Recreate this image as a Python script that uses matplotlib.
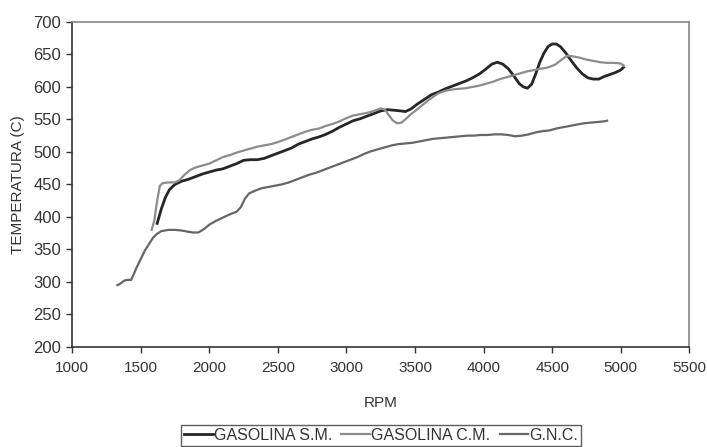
import matplotlib
matplotlib.use("Agg")
import matplotlib.pyplot as plt

plt.rcParams['font.family'] = ['Liberation Sans', 'DejaVu Sans']

# GASOLINA S.M.
sm_rpm = [1620,1650,1680,1710,1750,1800,1850,1900,1950,2000,2050,2100,2150,2200,2250,2300,2350,2400,2450,2500,
          2550,2600,2650,2700,2750,2800,2850,2900,2950,3000,3050,3100,3150,3200,3250,3300,3350,3400,3430,3470,
          3520,3570,3620,3670,3720,3770,3820,3870,3920,3970,4020,4060,4100,4140,4180,4220,4260,4290,4320,4350,
          4380,4410,4440,4470,4500,4530,4560,4600,4640,4680,4720,4760,4800,4840,4880,4920,4960,5000,5020]
sm_temp = [390,412,430,442,450,455,458,462,466,469,472,474,478,482,487,488,488,490,494,498,
           502,506,512,516,520,523,527,532,538,543,548,551,555,559,563,565,564,563,562,566,
           574,581,588,592,597,601,605,609,614,620,628,635,638,635,628,617,605,600,598,604,
           620,638,652,662,666,666,662,652,640,629,620,614,612,612,616,619,622,626,630]

# GASOLINA C.M.
cm_rpm = [1580,1600,1620,1640,1660,1700,1750,1780,1820,1860,1900,1950,2000,2050,2100,2150,2200,2250,2300,2350,
          2400,2450,2500,2550,2600,2650,2700,2750,2800,2850,2900,2950,3000,3050,3100,3150,3200,3250,3280,3310,
          3340,3370,3400,3430,3470,3520,3570,3620,3670,3720,3770,3820,3870,3920,3970,4020,4070,4120,4170,4220,
          4270,4320,4370,4420,4470,4520,4570,4610,4650,4700,4750,4800,4850,4900,4950,5000,5020]
cm_temp = [380,395,425,448,452,453,453,456,465,472,476,479,482,487,492,495,499,502,505,508,
           510,512,515,519,523,527,531,534,536,540,543,547,552,556,558,560,563,567,565,556,
           548,544,545,550,558,566,575,583,590,594,596,597,598,600,602,605,608,612,615,618,
           621,624,626,628,630,634,642,648,647,645,642,640,638,637,637,636,633]

# G.N.C.
gnc_rpm = [1330,1350,1380,1400,1430,1450,1470,1500,1530,1560,1590,1620,1650,1700,1750,1800,1850,1880,1920,1960,
           2000,2050,2100,2150,2200,2230,2260,2290,2330,2380,2430,2480,2530,2580,2630,2680,2730,2780,2830,2880,
           2930,2980,3030,3080,3130,3180,3230,3280,3330,3380,3430,3480,3530,3580,3630,3680,3730,3780,3830,3880,
           3930,3980,4030,4080,4130,4180,4230,4280,4330,4380,4430,4480,4530,4580,4630,4680,4730,4780,4830,4880,4900]
gnc_temp = [295,297,302,303,303,312,322,335,348,358,368,374,378,380,380,379,377,376,376,381,
            388,394,399,404,408,415,428,436,440,444,446,448,450,453,457,461,465,468,472,476,
            480,484,488,492,497,501,504,507,510,512,513,514,516,518,520,521,522,523,524,525,
            525,526,526,527,527,526,524,525,527,530,532,533,536,538,540,542,544,545,546,547,548]

labels = ["GASOLINA S.M.", "GASOLINA C.M.", "G.N.C."]
x_ticks = [1000,1500,2000,2500,3000,3500,4000,4500,5000,5500]
y_ticks = [200,250,300,350,400,450,500,550,600,650,700]

fig = plt.figure(figsize=(7.07, 4.47), dpi=100)
ax = fig.add_axes([0.102, 0.224, 0.873, 0.727])

l1, = ax.plot(sm_rpm, sm_temp, color='#262626', lw=2.0, label=labels[0])
l2, = ax.plot(cm_rpm, cm_temp, color='#8c8c8c', lw=1.6, label=labels[1])
l3, = ax.plot(gnc_rpm, gnc_temp, color='#666666', lw=1.6, label=labels[2])

ax.set_xlim(1000, 5500)
ax.set_ylim(200, 700)
ax.set_xticks(x_ticks)
ax.set_yticks(y_ticks)
ax.tick_params(axis='both', direction='out', length=4, width=1, colors='#333333',
               labelcolor='#333333')
ax.tick_params(axis='x', pad=6, labelsize=11)
ax.tick_params(axis='y', pad=4, labelsize=12)
for s in ['left', 'bottom']:
    ax.spines[s].set_color('#333333')
    ax.spines[s].set_linewidth(1.2)
for s in ['top', 'right']:
    ax.spines[s].set_color('#888888')
    ax.spines[s].set_linewidth(1.2)

ax.set_xlabel("RPM", fontsize=11, color='#333333', labelpad=15)
ax.set_ylabel("TEMPERATURA (C)", fontsize=11, color='#333333', labelpad=6)

leg = fig.legend(handles=[l1, l2, l3], labels=labels, loc='lower center',
                 bbox_to_anchor=(0.539, -0.005), ncol=3, fontsize=11.5,
                 frameon=True, fancybox=False, handlelength=1.8, handletextpad=0.05,
                 columnspacing=0.6, borderpad=0.2, borderaxespad=0.2)
leg.get_frame().set_edgecolor('#333333')
leg.get_frame().set_linewidth(1.0)
for t in leg.get_texts():
    t.set_color('#333333')

fig.savefig("out.png", dpi=100)
